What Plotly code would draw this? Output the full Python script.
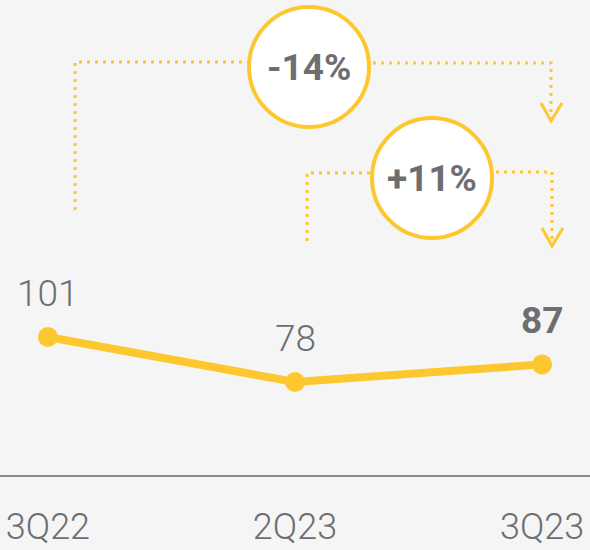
import plotly.graph_objects as go

# ---- data ----
quarters = ["3Q22", "2Q23", "3Q23"]
values = [101, 78, 87]
value_labels = ["101", "78", "<b>87</b>"]
changes = ["-14%", "+11%"]

# ---- layout constants ----
W, H = 590, 550
M_B = 75
PLOT_H = H - M_B
X_RANGE = [-0.194, 2.194]
Y_RANGE = [30.5, 273.2]
YELLOW = "#FDC82F"
GREY = "#6d6e71"
BG = "#f5f5f5"
FONT = "Roboto"


def px_x(p):
    return X_RANGE[0] + p / W * (X_RANGE[1] - X_RANGE[0])


def px_y(p):
    return Y_RANGE[1] - p / PLOT_H * (Y_RANGE[1] - Y_RANGE[0])


def path(points):
    s = ""
    for i, (a, b) in enumerate(points):
        s += ("M " if i == 0 else " L ") + f"{px_x(a):.4f},{px_y(b):.4f}"
    return s


fig = go.Figure()
fig.add_trace(go.Scatter(
    x=list(range(len(quarters))), y=values, mode="lines+markers",
    line=dict(color=YELLOW, width=8),
    marker=dict(color=YELLOW, size=20),
    hoverinfo="skip", showlegend=False,
))

shapes = []
dotted = dict(color=YELLOW, width=3, dash="3px,5px")
solid = dict(color=YELLOW, width=3)
# bracket for change 1
shapes.append(dict(type="path", xref="x", yref="y", line=dotted,
                   path=path([(75, 210), (75, 62), (255, 62)])))
shapes.append(dict(type="path", xref="x", yref="y", line=dotted,
                   path=path([(365, 63), (551, 63), (551, 118)])))
shapes.append(dict(type="path", xref="x", yref="y", line=solid,
                   path=path([(541, 103), (551, 121), (562, 103)])))
# bracket for change 2
shapes.append(dict(type="path", xref="x", yref="y", line=dotted,
                   path=path([(307, 241), (307, 173), (377, 173)])))
shapes.append(dict(type="path", xref="x", yref="y", line=dotted,
                   path=path([(488, 172), (552, 172), (552, 243)])))
shapes.append(dict(type="path", xref="x", yref="y", line=solid,
                   path=path([(542, 228), (552, 246), (563, 228)])))

circles = [(309, 67), (432, 178)]
annotations = []
for (cx, cy), txt in zip(circles, changes):
    shapes.append(dict(type="circle", xref="x", yref="y",
                       xsizemode="pixel", ysizemode="pixel",
                       xanchor=px_x(cx), yanchor=px_y(cy),
                       x0=-60, x1=60, y0=-60, y1=60,
                       line=dict(color=YELLOW, width=4), fillcolor="white"))
    annotations.append(dict(x=px_x(cx), y=px_y(cy), xref="x", yref="y",
                            text=f"<b>{txt}</b>", showarrow=False,
                            font=dict(family=FONT, size=37, color=GREY)))

for i, (v, lab) in enumerate(zip(values, value_labels)):
    annotations.append(dict(x=i, y=v, xref="x", yref="y", text=lab,
                            showarrow=False, yshift=44, yanchor="middle",
                            font=dict(family=FONT, size=37, color=GREY,
                                      weight=300 if "<b>" not in lab else 700)))

fig.update_layout(
    width=W, height=H,
    margin=dict(l=0, r=0, t=0, b=M_B, autoexpand=False),
    paper_bgcolor=BG, plot_bgcolor=BG,
    shapes=shapes, annotations=annotations,
    xaxis=dict(range=X_RANGE, tickmode="array",
               tickvals=list(range(len(quarters))), ticktext=quarters,
               showgrid=False, zeroline=False, showline=True,
               linecolor="#8a8c8e", linewidth=2,
               tickfont=dict(family=FONT, size=36, color=GREY, weight=300),
               ticks="", ticklabelstandoff=19, fixedrange=True),
    yaxis=dict(range=Y_RANGE, visible=False, fixedrange=True),
    showlegend=False,
)

fig.write_html("out.html", config={"displayModeBar": False},
               post_script="document.body.style.margin='0';"
                           "document.body.style.padding='0';"
                           "document.body.style.overflow='hidden';")
